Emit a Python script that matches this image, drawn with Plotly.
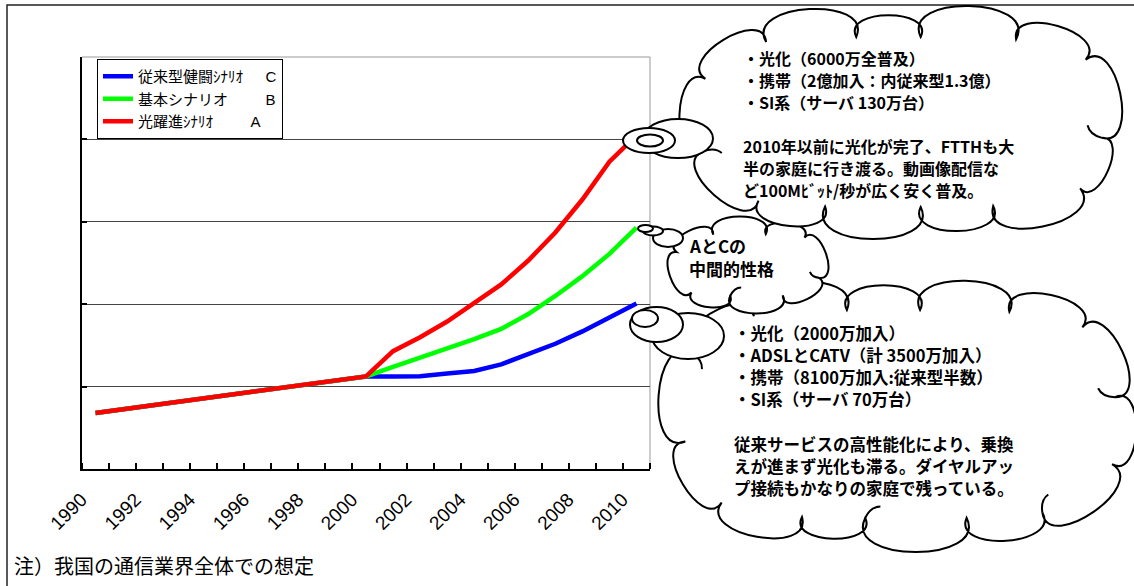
import math
import plotly.graph_objects as go

# ---- data -------------------------------------------------------------
years = list(range(1990, 2011))
tick_years = years[::2]
tick_text = [str(y) for y in tick_years]

# common history 1990-2000, then three scenarios to 2010
scenario_c = [0.68, 0.725, 0.77, 0.815, 0.86, 0.905, 0.95, 0.995, 1.04, 1.08, 1.123,
              1.123, 1.125, 1.16, 1.19, 1.27, 1.39, 1.52, 1.67, 1.84, 2.01]
scenario_b = [0.68, 0.725, 0.77, 0.815, 0.86, 0.905, 0.95, 0.995, 1.04, 1.08, 1.123,
              1.24, 1.35, 1.46, 1.575, 1.70, 1.88, 2.10, 2.34, 2.61, 2.93]
scenario_a = [0.68, 0.725, 0.77, 0.815, 0.86, 0.905, 0.95, 0.995, 1.04, 1.08, 1.123,
              1.43, 1.60, 1.79, 2.02, 2.24, 2.53, 2.87, 3.27, 3.73, 4.05]

series_names = ["従来型健闘ｼﾅﾘｵ\u3000\u2002C",
                "基本シナリオ\u3000\u3000\u2002B",
                "光躍進ｼﾅﾘｵ\u3000\u3000\u2002A"]
series_colors = ["#0000ff", "#00ff00", "#ff0000"]

note_text = "注）我国の通信業界全体での想定"
cloud_a_lines = ["・光化（6000万全普及）",
                 "・携帯（2億加入：内従来型1.3億）",
                 "・SI系（サーバ 130万台）",
                 "",
                 "2010年以前に光化が完了、FTTHも大",
                 "半の家庭に行き渡る。動画像配信な",
                 "ど100Mﾋﾞｯﾄ/秒が広く安く普及。"]
cloud_b_lines = ["AとCの", "中間的性格"]
cloud_c_lines = ["・光化（2000万加入）",
                 "・ADSLとCATV（計 3500万加入）",
                 "・携帯（8100万加入:従来型半数）",
                 "・SI系（サーバ 70万台）",
                 "",
                 "従来サービスの高性能化により、乗換",
                 "えが進まず光化も滞る。ダイヤルアッ",
                 "プ接続もかなりの家庭で残っている。"]

# ---- geometry ---------------------------------------------------------
W, H = 1134, 586
ML, MR, MT, MB = 82, 484, 57, 117
PW = W - ML - MR
PH = H - MT - MB

FONT_MIX = "Liberation Sans, Arial, Noto Sans CJK JP"
FONT_JP = "Noto Sans CJK JP"


def px(x):
    return (x - ML) / PW


def py(y):
    return (MT + PH - y) / PH


def pt(p):
    return f"{px(p[0]):.5f},{py(p[1]):.5f}"


def superellipse_points(cx, cy, rx, ry, weights, start_deg, expo=0.5):
    """Cusp points spaced by arc length along a rounded-rectangle (superellipse)."""
    dense = []
    m = 720
    for i in range(m + 1):
        t = math.radians(start_deg) + 2 * math.pi * i / m
        c, s = math.cos(t), math.sin(t)
        dense.append((cx + rx * math.copysign(abs(c) ** expo, c),
                      cy + ry * math.copysign(abs(s) ** expo, s)))
    cum = [0.0]
    for i in range(1, len(dense)):
        cum.append(cum[-1] + math.hypot(dense[i][0] - dense[i - 1][0],
                                        dense[i][1] - dense[i - 1][1]))
    total = cum[-1]
    tot_w = sum(weights)
    pts, acc, j = [], 0.0, 0
    for w in weights:
        target = acc / tot_w * total
        while cum[j] < target:
            j += 1
        pts.append(dense[j])
        acc += w
    return pts


def cloud(cx, cy, rx, ry, weights, start_deg, keep_out, bulge=0.45, over=0.22):
    """Scalloped cloud outline (pixel space) returned as paper-space paths.
    Short inner strokes are added at every other cusp that lies clear of keep_out."""
    pts = superellipse_points(cx, cy, rx, ry, weights, start_deg)
    n = len(pts)
    body = f"M {pt(pts[0])}"
    extra = []
    x0, y0, x1, y1 = keep_out
    for k in range(n):
        p0, p1 = pts[k], pts[(k + 1) % n]
        dx, dy = p1[0] - p0[0], p1[1] - p0[1]
        L = math.hypot(dx, dy)
        nx, ny = dy / L, -dx / L
        mx, my = (p0[0] + p1[0]) / 2, (p0[1] + p1[1]) / 2
        if (mx - cx) * nx + (my - cy) * ny < 0:
            nx, ny = -nx, -ny
        c1 = (p0[0] + nx * bulge * L - dx * over, p0[1] + ny * bulge * L - dy * over)
        c2 = (p1[0] + nx * bulge * L + dx * over, p1[1] + ny * bulge * L + dy * over)
        body += f" C {pt(c1)} {pt(c2)} {pt(p1)}"
        if k % 2 == 1:
            tx, ty = p1[0] - c2[0], p1[1] - c2[1]
            tl = math.hypot(tx, ty)
            tx, ty = tx / tl, ty / tl
            ux, uy = mx - p1[0], my - p1[1]
            ul = math.hypot(ux, uy)
            ux, uy = ux / ul, uy / ul
            ls = min(0.22 * L, 16)
            q = (p1[0] + tx * ls * 0.8, p1[1] + ty * ls * 0.8)
            e = (p1[0] + tx * ls * 0.8 + ux * ls * 0.6, p1[1] + ty * ls * 0.8 + uy * ls * 0.6)
            clear = all(not (x0 - 4 < p[0] < x1 + 4 and y0 - 4 < p[1] < y1 + 4)
                        for p in (p1, q, e))
            if clear:
                extra.append(f"M {pt(p1)} Q {pt(q)} {pt(e)}")
    body += " Z"
    return body, extra


def ellipse(cx, cy, rx, ry):
    return dict(type="circle", xref="paper", yref="paper",
                x0=px(cx - rx), x1=px(cx + rx), y0=py(cy + ry), y1=py(cy - ry),
                fillcolor="white", line=dict(color="black", width=2), layer="above")


shapes = []

# outer frame of the figure
shapes.append(dict(type="path", xref="paper", yref="paper", layer="below",
                   path=f"M {pt((7, 600))} L {pt((7, 5))} L {pt((1150, 5))}",
                   line=dict(color="#222", width=1.5)))
# plot-area border (top and right)
shapes.append(dict(type="path", xref="paper", yref="paper", layer="below",
                   path="M 0,1 L 1,1 L 1,0", line=dict(color="#999", width=1)))


def add_cloud(cx, cy, rx, ry, weights, start, keep_out, tail):
    body, extra = cloud(cx, cy, rx, ry, weights, start, keep_out)
    shapes.append(dict(type="path", xref="paper", yref="paper", path=body,
                       fillcolor="white", line=dict(color="black", width=2), layer="above"))
    for e in extra:
        shapes.append(dict(type="path", xref="paper", yref="paper", path=e,
                           line=dict(color="black", width=2), layer="above"))
    for (ex, ey, erx, ery) in tail:
        shapes.append(ellipse(ex, ey, erx, ery))


# lower cloud (scenario C)
add_cloud(900, 414, 215, 104,
          [1.0, 1.2, 0.9, 1.3, 1.0, 1.1, 0.9, 1.2, 1.0, 1.3, 0.9, 1.1, 1.0, 1.2],
          200, (730, 320, 1010, 500),
          tail=[(688, 336, 36, 23), (656.5, 324.5, 26.5, 17.5), (645, 318.5, 13, 8.5)])
# middle cloud (scenario B)
add_cloud(748, 265, 72, 31,
          [1.0, 1.2, 0.9, 1.1, 1.0, 1.2, 0.9, 1.1],
          190, (685, 234, 780, 282),
          tail=[(668, 238, 15, 9), (653, 231, 10, 4.5), (645.5, 228.5, 7.5, 3.5)])
# upper cloud (scenario A)
add_cloud(902, 122, 200, 85,
          [1.0, 1.2, 0.9, 1.3, 1.0, 1.1, 0.8, 1.2, 1.0, 1.3, 0.9, 1.1, 1.0],
          195, (738, 46, 1040, 200),
          tail=[(678, 138.5, 35, 19.5), (649, 140.5, 26, 12.5), (650, 140.5, 13, 6)])

# ---- figure -----------------------------------------------------------
fig = go.Figure()
for name, vals, col in zip(series_names, [scenario_c, scenario_b, scenario_a], series_colors):
    fig.add_trace(go.Scatter(x=years, y=vals, mode="lines", name=name,
                             line=dict(color=col, width=4.5)))

annotations = []


def add_block(lines, x_left, y_first, step, size):
    for i, line in enumerate(lines):
        if not line:
            continue
        annotations.append(dict(
            text=line, x=px(x_left), y=py(y_first + i * step),
            xanchor="left", yanchor="middle", align="left", showarrow=False,
            xref="paper", yref="paper", borderpad=0,
            font=dict(family=FONT_JP, size=size, color="black", weight="bold")))


add_block(cloud_a_lines, 742, 57.5, 22, 16)
add_block(cloud_b_lines, 688, 245, 23, 17)
add_block(cloud_c_lines, 733, 333, 22.1, 16.5)

annotations.append(dict(text=note_text, x=px(12), y=py(565), xanchor="left",
                        yanchor="middle", align="left", showarrow=False,
                        xref="paper", yref="paper",
                        font=dict(family=FONT_JP, size=20, color="black")))

fig.update_layout(
    width=W, height=H,
    margin=dict(l=ML, r=MR, t=MT, b=MB, autoexpand=False),
    paper_bgcolor="white", plot_bgcolor="white",
    shapes=shapes, annotations=annotations,
    showlegend=True,
    legend=dict(x=px(97), y=py(59), xanchor="left", yanchor="top",
                bordercolor="black", borderwidth=1, bgcolor="white",
                font=dict(family=FONT_MIX, size=15, color="black"),
                tracegroupgap=0, itemwidth=30),
    xaxis=dict(range=[1989.5, 2010.5], tickmode="array", tickvals=tick_years,
               ticktext=tick_text, ticks="", tickangle=-45,
               ticklabelstandoff=10, ticklabelshift=-14,
               tickfont=dict(family=FONT_MIX, size=19, color="black"),
               showgrid=False, zeroline=False,
               showline=True, linecolor="black", linewidth=2,
               minor=dict(tickmode="linear", tick0=1989.5, dtick=1, ticks="inside",
                          ticklen=6, tickwidth=1.5, tickcolor="black", showgrid=False)),
    yaxis=dict(range=[0, 5], tickmode="linear", tick0=0, dtick=1,
               showticklabels=False, ticks="inside", ticklen=5, tickwidth=1.5,
               tickcolor="black", showgrid=True, gridcolor="#444", gridwidth=1,
               zeroline=False, showline=True, linecolor="black", linewidth=2),
)

fig.write_html("out.html")
